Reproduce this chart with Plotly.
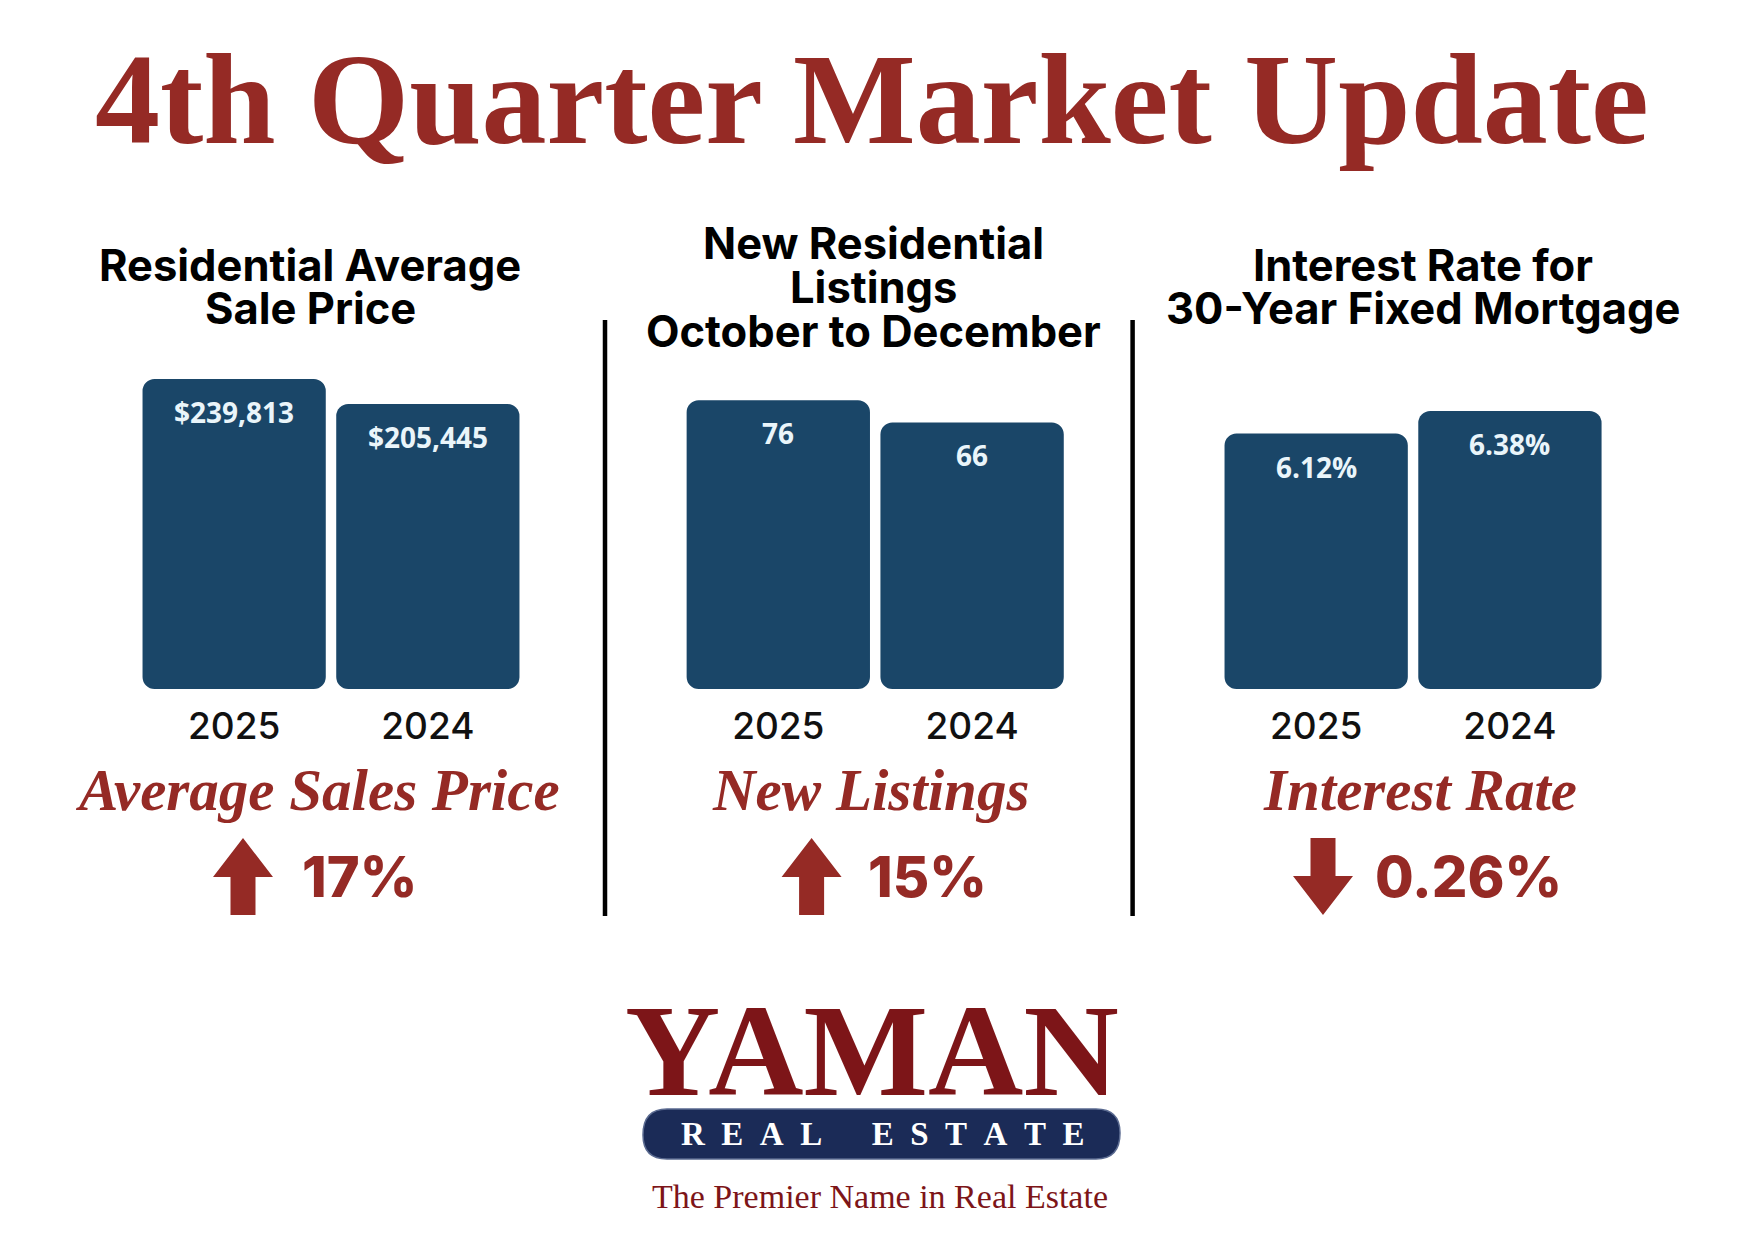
import plotly.graph_objects as go

# ---------------- data ----------------
years = ["2025", "2024"]
price_values = [239813, 205445]
price_labels = ["$239,813", "$205,445"]
listing_values = [76, 66]
listing_labels = ["76", "66"]
rate_values = [6.12, 6.38]
rate_labels = ["6.12%", "6.38%"]

panel_titles = [
    ["Residential Average", "Sale Price"],
    ["New Residential", "Listings", "October to December"],
    ["Interest Rate for", "30-Year Fixed Mortgage"],
]
panel_names = ["Average Sales Price", "New Listings", "Interest Rate"]
change_labels = ["17%", "15%", "0.26%"]
change_dirs = ["up", "up", "down"]

# ---------------- style ----------------
W, H = 1748, 1240
OFF = 8  # page body margin of the html page
NAVY = "#1a4668"
RED = "#952a25"
LOGO_RED = "#7d1518"
BAND = "#1b2b57"
LABEL_COL = "#eaf5fa"

def px(x):
    return (x - OFF) / W

def py(y):
    return 1 - (y - OFF) / H

# axis floors / ceilings (visual scale of the infographic)
axis_ranges = [(-186600, 265900), (-53.5, 94.0), (3.17, 6.97)]
x_domains = [(137.3, 524.7), (681.4, 1069.0), (1219.3, 1606.8)]
y_domain = (py(689), py(360))

fig = go.Figure()
series = [(price_values, price_labels), (listing_values, listing_labels), (rate_values, rate_labels)]
annotations = []
for i, (vals, labs) in enumerate(series):
    sfx = "" if i == 0 else str(i + 1)
    floor = axis_ranges[i][0]
    fig.add_trace(go.Bar(
        x=years, y=[v - floor for v in vals], base=floor,
        marker=dict(color=NAVY, cornerradius=12, line=dict(width=0)),
        xaxis="x" + sfx, yaxis="y" + sfx, showlegend=False,
        hovertext=labs, hoverinfo="x+text",
    ))
    for j, (v, lab) in enumerate(zip(vals, labs)):
        annotations.append(dict(
            x=j, y=v, xref="x" + sfx, yref="y" + sfx, text=lab, showarrow=False,
            yanchor="middle", xanchor="center", yshift=-33,
            font=dict(family="Open Sans", size=28, color=LABEL_COL, weight=700),
        ))
    fig.update_layout(**{
        "xaxis" + sfx: dict(domain=[px(x_domains[i][0]), px(x_domains[i][1])],
                            anchor="y" + sfx, type="category", range=[-0.5, 1.5],
                            showgrid=False, automargin=False,
                            zeroline=False, showline=False, ticks="",
                            ticklabelstandoff=12,
                            tickfont=dict(family="Inter", size=37, color="#111111", weight=500)),
        "yaxis" + sfx: dict(domain=list(y_domain), anchor="x" + sfx, automargin=False,
                            range=list(axis_ranges[i]), visible=False, showgrid=False,
                            zeroline=False),
    })

# main title
annotations.append(dict(
    x=px(872), y=py(99), xref="paper", yref="paper", showarrow=False,
    text="<b>4th Quarter Market Update</b>", xanchor="center", yanchor="middle",
    font=dict(family="Liberation Serif", size=130, color=RED),
))

# panel titles
title_centers = [310, 873.5, 1422.5]
title_lines_y = [[265, 307.7], [243, 286.5, 331], [265, 307.7]]
for cx, lines, ys in zip(title_centers, panel_titles, title_lines_y):
    for txt, yy in zip(lines, ys):
        annotations.append(dict(
            x=px(cx), y=py(yy), xref="paper", yref="paper", showarrow=False,
            text=txt, xanchor="center", yanchor="middle",
            font=dict(family="Inter", size=43.5, color="#000000", weight=700),
        ))

# panel names (italic serif)
name_centers = [317.7, 870.7, 1420]
for cx, txt in zip(name_centers, panel_names):
    annotations.append(dict(
        x=px(cx), y=py(790), xref="paper", yref="paper", showarrow=False,
        text="<b><i>" + txt + "</i></b>", xanchor="center", yanchor="middle",
        font=dict(family="Liberation Serif", size=59, color=RED),
    ))

# change figures
change_centers = [359, 927.5, 1468.8]
for cx, txt in zip(change_centers, change_labels):
    annotations.append(dict(
        x=px(cx), y=py(877), xref="paper", yref="paper", showarrow=False,
        text=txt, xanchor="center", yanchor="middle",
        font=dict(family="Inter", size=56, color=RED, weight=800),
    ))

shapes = []
# arrows
arrow_x = [243, 811.6, 1323]
for cx, d in zip(arrow_x, change_dirs):
    top, bot, hh, hw, sw = 838, 915, 39, 60, 25
    if d == "up":
        pts = [(cx, top), (cx + hw / 2, top + hh), (cx + sw / 2, top + hh), (cx + sw / 2, bot),
               (cx - sw / 2, bot), (cx - sw / 2, top + hh), (cx - hw / 2, top + hh)]
    else:
        pts = [(cx, bot), (cx + hw / 2, bot - hh), (cx + sw / 2, bot - hh), (cx + sw / 2, top),
               (cx - sw / 2, top), (cx - sw / 2, bot - hh), (cx - hw / 2, bot - hh)]
    path = "M " + " L ".join(f"{px(a):.5f},{py(b):.5f}" for a, b in pts) + " Z"
    shapes.append(dict(type="path", xref="paper", yref="paper", path=path,
                       fillcolor=RED, line=dict(width=0)))

# divider lines
for xx in [605, 1132.6]:
    shapes.append(dict(type="line", xref="paper", yref="paper",
                       x0=px(xx), x1=px(xx), y0=py(320), y1=py(916),
                       line=dict(color="#000000", width=4.5)))

# logo band
x0, x1, y0, y1, r = 643, 1120, 1109, 1159, 24
def P(a, b):
    return f"{px(a):.5f},{py(b):.5f}"
band_path = (f"M {P(x0 + r, y0)} L {P(x1 - r, y0)} Q {P(x1, y0)} {P(x1, y0 + r)} "
             f"Q {P(x1, y1)} {P(x1 - r, y1)} L {P(x0 + r, y1)} Q {P(x0, y1)} {P(x0, y1 - r)} "
             f"Q {P(x0, y0)} {P(x0 + r, y0)} Z")
shapes.append(dict(type="path", xref="paper", yref="paper", path=band_path,
                   fillcolor=BAND, line=dict(color="#5a6a90", width=1.5)))

# logo text
annotations.append(dict(
    x=px(872), y=py(1050), xref="paper", yref="paper", showarrow=False,
    text="<b>YAMAN</b>", xanchor="center", yanchor="middle",
    font=dict(family="Liberation Serif", size=132, color=LOGO_RED),
))
sp = "&#160;&#160;"
real_estate = sp.join("REAL") + sp * 3 + sp.join("ESTATE")
annotations.append(dict(
    x=px(882), y=py(1134), xref="paper", yref="paper", showarrow=False,
    text="<b>" + real_estate + "</b>", xanchor="center", yanchor="middle",
    font=dict(family="Liberation Serif", size=33, color="#ffffff"),
))
annotations.append(dict(
    x=px(880), y=py(1196), xref="paper", yref="paper", showarrow=False,
    text="The Premier Name in Real Estate", xanchor="center", yanchor="middle",
    font=dict(family="Liberation Serif", size=34, color=LOGO_RED),
))

fig.update_layout(
    width=W, height=H, margin=dict(l=0, r=0, t=0, b=0, pad=0), autosize=False,
    paper_bgcolor="#ffffff", plot_bgcolor="#ffffff",
    bargap=0.054, annotations=annotations, shapes=shapes,
)

fig.write_html("out.html", config={"displayModeBar": False})
